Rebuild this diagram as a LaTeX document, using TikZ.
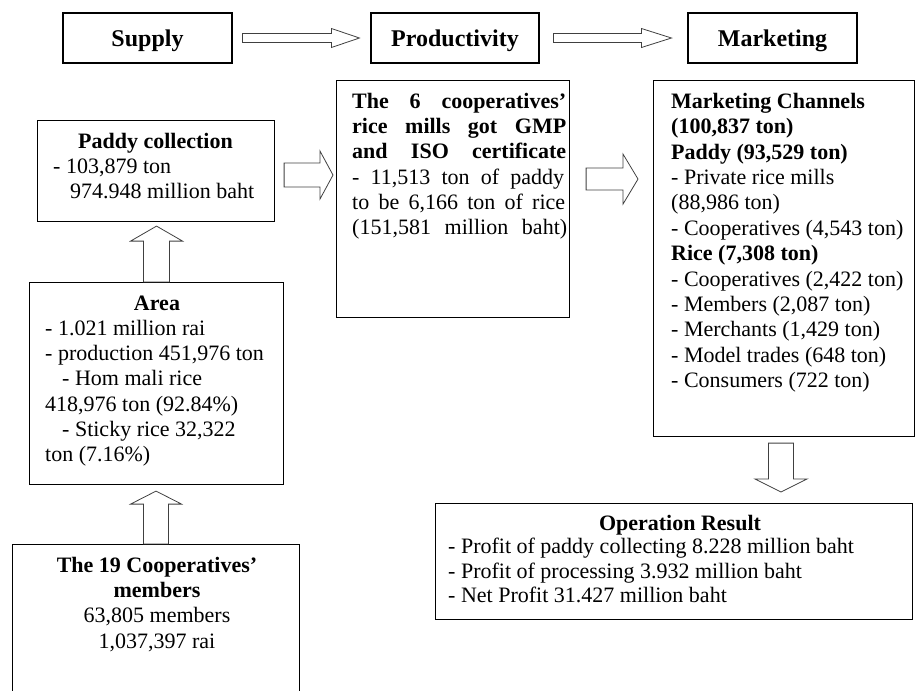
\documentclass[tikz,border=0pt]{standalone}
\usepackage{fontspec}
\setmainfont{Liberation Serif}
\usetikzlibrary{calc}
\tikzset{
  box/.style={draw=black, line width=1.1pt, inner sep=0pt, anchor=north west},
  hdr/.style={draw=black, line width=1.1pt, inner sep=0pt, anchor=center,
    font=\fontsize{24}{28}\selectfont\bfseries, text height=20pt, text depth=4pt},
  txt/.style={inner sep=0pt, font=\fontsize{22}{25.3}\selectfont, align=left},
  ctxt/.style={inner sep=0pt, font=\fontsize{22}{25.3}\selectfont, align=center, anchor=north},
  barrow/.style={draw=black!75, line width=0.8pt, line join=miter},
}
\newcommand\blockarrow[5]{% from, tip, shaft half, head half, head length
  \coordinate (ba-h) at ($(#2)!#5!(#1)$);
  \draw[barrow] ($(#1)!#3!90:(#2)$) -- ($(ba-h)!#3!90:(#2)$) -- ($(ba-h)!#4!90:(#2)$)
    -- (#2) -- ($(ba-h)!#4!-90:(#2)$) -- ($(ba-h)!#3!-90:(#2)$) -- ($(#1)!#3!-90:(#2)$) -- cycle;
}
\begin{document}
\begin{tikzpicture}[x=1pt,y=-1pt]
\useasboundingbox (0,0) rectangle (916,691);
\clip (0,0) rectangle (916,691);

% header boxes
\node[hdr, minimum width=169pt, minimum height=50pt] (supply) at (147.5,38) {Supply};
\node[hdr, minimum width=168pt, minimum height=50pt] (prodhead) at (455,38) {Productivity};
\node[hdr, minimum width=169pt, minimum height=50pt] (markhead) at (772.5,38) {Marketing};

% content boxes
\node[box, minimum width=237pt, minimum height=101pt] (paddy) at (37,120) {};
\node[box, minimum width=254pt, minimum height=202pt] (area) at (29,282) {};
\node[box, minimum width=287pt, minimum height=160pt] (members) at (12,544) {};
\node[box, minimum width=233pt, minimum height=237pt] (prod) at (336,80) {};
\node[box, minimum width=261pt, minimum height=356pt] (mkt) at (653,80) {};
\node[box, minimum width=477pt, minimum height=116pt] (result) at (435,503) {};

% texts
\node[ctxt] (paddyT) at (155.5,130.3) {\strut\textbf{Paddy collection}};
\node[txt, anchor=north west] (paddyB) at (53,155.3) {\strut- 103,879 ton\\\hspace*{17pt}974.948 million baht};

\node[ctxt] (areaT) at (157,292.3) {\strut\textbf{Area}};
\node[txt, anchor=north west] (areaB) at (45,317.3) {\strut- 1.021 million rai\\- production 451,976 ton\\\hspace*{17pt}- Hom mali rice\\418,976 ton (92.84\%)\\\hspace*{17pt}- Sticky rice 32,322\\ton (7.16\%)};

\node[ctxt] (membersT) at (157,554.3) {\strut\textbf{The 19 Cooperatives'}\\\textbf{members}\\63,805 members\\1,037,397 rai};

\node[txt, anchor=north west] (prodT) at (352,90.3) {\strut\makebox[214pt][s]{\bfseries The 6 cooperatives'}\\\makebox[214pt][s]{\bfseries rice mills got GMP}\\\makebox[214pt][s]{\bfseries and ISO certificate}\\\makebox[212pt][s]{- 11,513 ton of paddy}\\\makebox[213pt][s]{to be 6,166 ton of rice}\\\makebox[215pt][s]{(151,581 million baht)}};

\node[txt, anchor=north west, font=\fontsize{22}{25.4}\selectfont] (mktT) at (671,90.3) {\strut\textbf{Marketing Channels}\\\textbf{(100,837 ton)}\\\textbf{Paddy (93,529 ton)}\\- Private rice mills\\(88,986 ton)\\- Cooperatives (4,543 ton)\\\textbf{Rice (7,308 ton)}\\- Cooperatives (2,422 ton)\\- Members (2,087 ton)\\- Merchants (1,429 ton)\\- Model trades (648 ton)\\- Consumers (722 ton)};

\node[ctxt] (resultT) at (680,512.3) {\strut\textbf{Operation Result}};
\node[txt, anchor=north west, font=\fontsize{22}{24.5}\selectfont] (resultB) at (448,536.3) {\strut- Profit of paddy collecting 8.228 million baht\\- Profit of processing 3.932 million baht\\- Net Profit 31.427 million baht};

% block arrows
\coordinate (a1s) at ($(supply.east)+(10,0)$);
\coordinate (a1e) at ($(prodhead.west)+(-11,0)$);
\blockarrow{a1s}{a1e}{4.5pt}{9.5pt}{28pt}
\coordinate (a2s) at ($(prodhead.east)+(14,0)$);
\coordinate (a2e) at ($(markhead.west)+(-16,0)$);
\blockarrow{a2s}{a2e}{4.5pt}{9.5pt}{30pt}

\coordinate (r1s) at ($(paddy.east)+(9,4)$);
\coordinate (r1e) at ($(prod.west |- r1s)+(-3,0)$);
\blockarrow{r1s}{r1e}{12pt}{24pt}{13pt}
\coordinate (r2s) at ($(prod.east)+(16,-20)$);
\coordinate (r2e) at ($(mkt.west |- r2s)+(-15,0)$);
\blockarrow{r2s}{r2e}{11pt}{25pt}{15pt}

\coordinate (u1s) at (area.north);
\coordinate (u1e) at ($(paddy.south -| u1s)+(0,4)$);
\blockarrow{u1s}{u1e}{13pt}{26pt}{15pt}
\coordinate (u2s) at (members.north);
\coordinate (u2e) at ($(area.south -| u2s)+(0,6)$);
\blockarrow{u2s}{u2e}{12.5pt}{25.5pt}{13pt}

\coordinate (d1s) at ($(mkt.south)+(-3,6)$);
\coordinate (d1e) at ($(result.north -| d1s)+(0,-11)$);
\blockarrow{d1s}{d1e}{12.5pt}{26pt}{13pt}
\end{tikzpicture}
\end{document}
